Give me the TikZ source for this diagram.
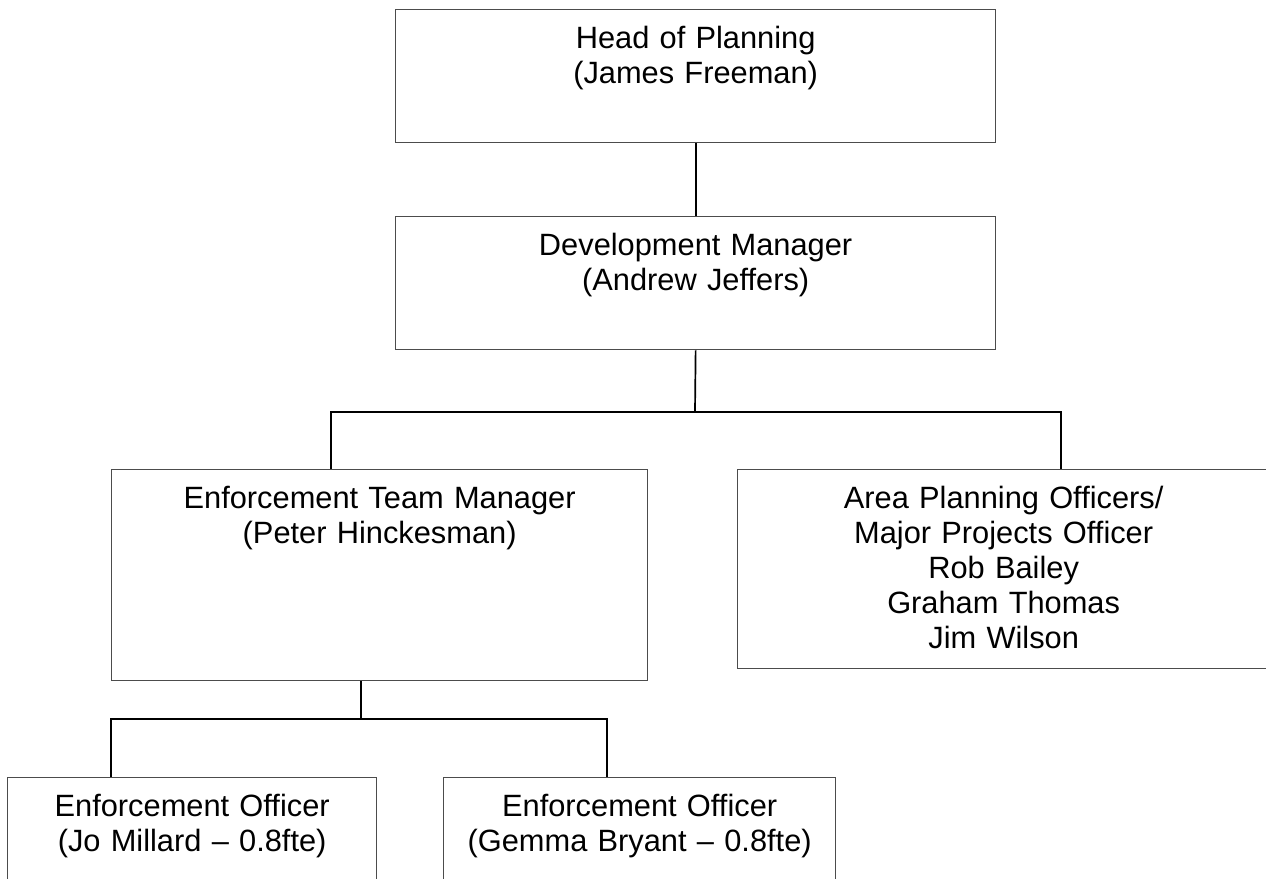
\documentclass[tikz,border=0pt]{standalone}
\usepackage{fontspec}
\setmainfont{Liberation Sans}
\begin{document}
\begin{tikzpicture}[x=0.5pt,y=-0.5pt,line join=miter,
  box/.style={draw=black!70,line width=0.65pt,anchor=north west,inner sep=0pt,align=center,
    text height=19.5pt,font=\fontsize{15.4pt}{17.5pt}\selectfont},
  link/.style={line width=0.85pt}]
  \clip (0,0) rectangle (1266,879);
  \node[box,text width=300pt,text depth=47pt] (hop) at (395,9) {Head of Planning\\(James Freeman)};
  \node[box,text width=300pt,text depth=47pt] (dev) at (395,216) {Development Manager\\(Andrew Jeffers)};
  \node[box,text width=268pt,text depth=86pt] (etm) at (111,469) {Enforcement Team Manager\\(Peter Hinckesman)};
  \node[box,text width=266pt,text depth=80pt] (apo) at (737,469) {Area Planning Officers/\\Major Projects Officer\\Rob Bailey\\Graham Thomas\\Jim Wilson};
  \node[box,text width=184.5pt,text depth=52pt] (jo) at (7,777) {Enforcement Officer\\(Jo Millard – 0.8fte)};
  \node[box,text width=196pt,text depth=52pt] (gem) at (443,777) {Enforcement Officer\\(Gemma Bryant – 0.8fte)};
  \coordinate (j1) at (695,412);
  \coordinate (j1l) at (331,412);
  \coordinate (j1r) at (1061,412);
  \coordinate (j2) at (361,719);
  \coordinate (j2l) at (111,719);
  \coordinate (j2r) at (607,719);
  \draw[link] (hop) -- (dev);
  \draw[link] (dev.south) -- (j1);
  \draw[link] (j1l |- etm.north) -- (j1l) -- (j1r) -- (j1r |- apo.north);
  \draw[link] (j2 |- etm.south) -- (j2);
  \draw[link] (j2l |- jo.north) -- (j2l) -- (j2r) -- (j2r |- gem.north);
\end{tikzpicture}
\end{document}
